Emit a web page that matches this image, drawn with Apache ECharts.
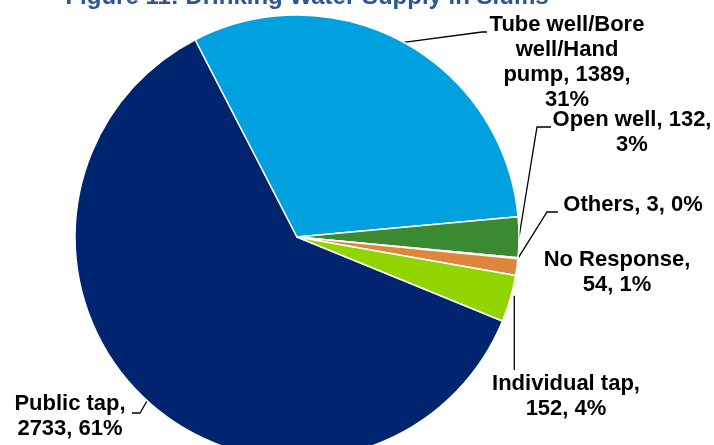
<!DOCTYPE html>
<html>
<head>
<meta charset="utf-8">
<script src="https://cdn.jsdelivr.net/npm/echarts@6/dist/echarts.min.js"></script>
<style>
  html, body { margin: 0; padding: 0; background: #fff; }
  #chart { width: 714px; height: 445px; }
</style>
</head>
<body>
<div id="chart"></div>
<script>
// Drinking water sources, households
const categories = ['Public tap', 'Tube well/Bore\nwell/Hand\npump', 'Open well', 'Others', 'No Response', 'Individual tap'];
const counts = [2733, 1389, 132, 3, 54, 152];
const percentLabels = [61, 31, 3, 0, 1, 4];
const sliceColors = ['#002570', '#00A1DE', '#3A8A32', '#A5A5A5', '#E0863C', '#92D400'];

// How each label's text wraps
const labelPatterns = [
  '{n},\n{v}, {p}%',
  '{n}, {v},\n{p}%',
  '{n}, {v},\n{p}%',
  '{n}, {v}, {p}%',
  '{n},\n{v}, {p}%',
  '{n},\n{v}, {p}%'
];

// Where each label block sits and how its leader line bends
const labelPlacement = [
  { x: 70,  y: 416, bend: [[140, 413], [132, 413]] },
  { x: 567, y: 62,  bend: [[482, 32], [487, 32]] },
  { x: 632, y: 132, bend: [[537, 127], [551, 127]] },
  { x: 633, y: 205, bend: [[547, 212], [558, 212]] },
  { x: 617, y: 272, bend: null },
  { x: 566, y: 396, dropTo: 370 }
];

const FONT = '"Liberation Sans", Arial, sans-serif';

const chart = echarts.init(document.getElementById('chart'), null, { renderer: 'canvas' });

const seriesData = categories.map((name, i) => ({
  name: name,
  value: counts[i],
  itemStyle: { color: sliceColors[i] },
  labelLine: { show: labelPlacement[i].bend !== null }
}));

chart.setOption({
  animation: false,
  title: {
    text: 'Figure 11: Drinking Water Supply in Slums',
    left: 307,
    top: -15,
    padding: 0,
    textAlign: 'center',
    textStyle: { fontFamily: FONT, fontSize: 24, fontWeight: 'bold', color: '#2F5496' }
  },
  series: [{
    type: 'pie',
    center: [297, 237],
    radius: 222,
    startAngle: -22.25,
    clockwise: true,
    avoidLabelOverlap: false,
    silent: true,
    data: seriesData,
    itemStyle: { borderColor: '#ffffff', borderWidth: 1.5 },
    label: {
      show: true,
      position: 'outside',
      color: '#000',
      fontFamily: FONT,
      fontSize: 22,
      fontWeight: 'bold',
      lineHeight: 25,
      formatter: p => labelPatterns[p.dataIndex]
        .replace('{n}', categories[p.dataIndex])
        .replace('{v}', counts[p.dataIndex])
        .replace('{p}', percentLabels[p.dataIndex])
    },
    labelLine: {
      show: true,
      length: 10,
      length2: 10,
      lineStyle: { color: '#000', width: 1.3 }
    },
    labelLayout: params => {
      const place = labelPlacement[params.dataIndex];
      const out = { x: place.x, y: place.y, align: 'center', verticalAlign: 'middle' };
      const pts = params.labelLinePoints;
      if (pts && pts.length) {
        const s = [pts[0][0], pts[0][1]];
        if (place.bend) {
          out.labelLinePoints = [s].concat(place.bend);
        } else if (place.dropTo) {
          out.labelLinePoints = [[s[0] + 4, s[1] - 3], [s[0] + 4, place.dropTo]];
        }
      }
      return out;
    }
  }]
});
</script>
</body>
</html>
